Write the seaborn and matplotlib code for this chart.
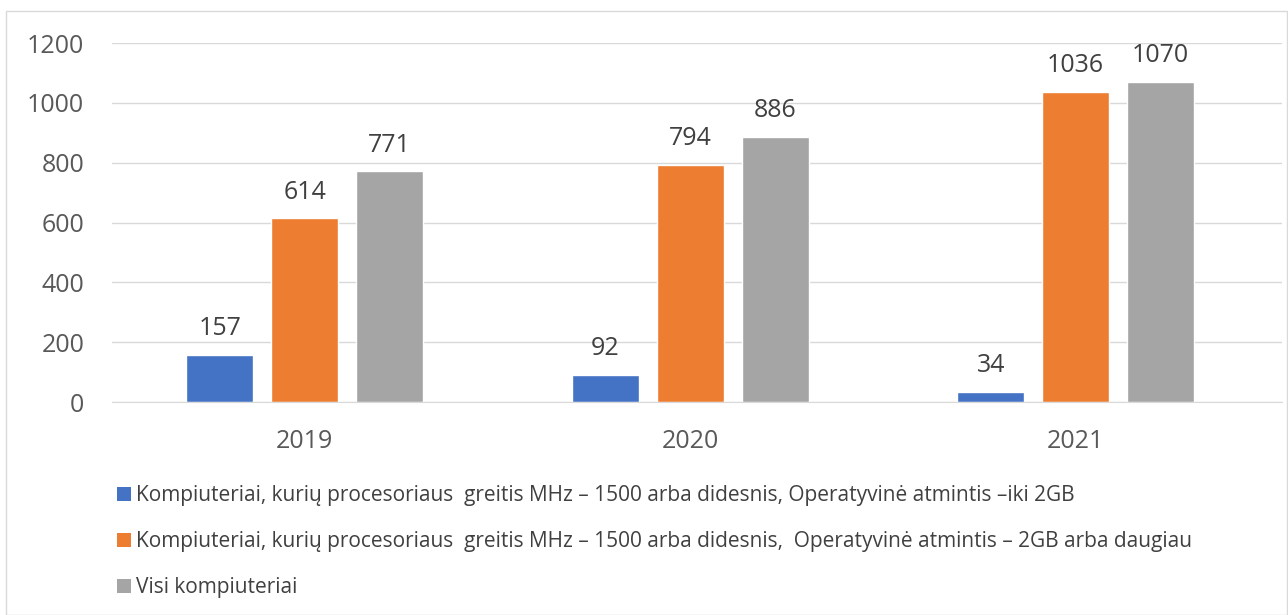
import matplotlib
matplotlib.use("Agg")
import matplotlib.pyplot as plt
from matplotlib.patches import Rectangle, Patch
import seaborn as sns
import pandas as pd

years = ["2019", "2020", "2021"]
series = [
    "Kompiuteriai, kurių procesoriaus  greitis MHz – 1500 arba didesnis, Operatyvinė atmintis –iki 2GB",
    "Kompiuteriai, kurių procesoriaus  greitis MHz – 1500 arba didesnis,  Operatyvinė atmintis – 2GB arba daugiau",
    "Visi kompiuteriai",
]
values_low = [157, 92, 34]
values_high = [614, 794, 1036]
values_all = [771, 886, 1070]
colors = ["#4472C4", "#ED7D31", "#A5A5A5"]

rows = []
for s, vals in zip(series, [values_low, values_high, values_all]):
    for y, v in zip(years, vals):
        rows.append({"year": y, "series": s, "value": v})
df = pd.DataFrame(rows)

sns.set_style("white")
plt.rcParams['font.family'] = ['Open Sans', 'DejaVu Sans']

fig = plt.figure(figsize=(12.88, 6.15), dpi=100)
ax = fig.add_axes([0.087, 0.346, 0.908, 0.584])

# grouped bars, width/gap tuned to the reference spacing
sns.barplot(data=df, x="year", y="value", hue="series", palette=colors,
            width=0.6615, gap=0.21, ax=ax, legend=False, saturation=1)

for c in ax.containers:
    ax.bar_label(c, padding=10, fontsize=18, color="#404040")

ax.set_xlim(-0.5, 2.534)
ax.set_ylim(0, 1200)
ax.set_yticks(range(0, 1201, 200))
ax.yaxis.grid(True, color="#D9D9D9", linewidth=1)
ax.set_axisbelow(True)
for sp in ["top", "right", "left"]:
    ax.spines[sp].set_visible(False)
ax.spines["bottom"].set_color("#D9D9D9")
ax.tick_params(axis="both", length=0, labelsize=18, labelcolor="#595959")
ax.tick_params(axis="y", pad=20)
ax.tick_params(axis="x", pad=19)
ax.set_xlabel("")
ax.set_ylabel("")

handles = [Patch(facecolor=c, edgecolor="none") for c in colors]
fig.legend(handles, series, loc="upper left", bbox_to_anchor=(0.0908, 0.211),
           frameon=False, fontsize=15, labelspacing=1.2, handlelength=0.67,
           handleheight=0.67, handletextpad=0.24, labelcolor="#404040",
           borderaxespad=0, borderpad=0)

fig.patches.append(Rectangle((0.005, 0.0), 0.994, 0.982, transform=fig.transFigure,
                             fill=False, edgecolor="#D9D9D9", linewidth=1))

fig.savefig("out.png", dpi=100)
